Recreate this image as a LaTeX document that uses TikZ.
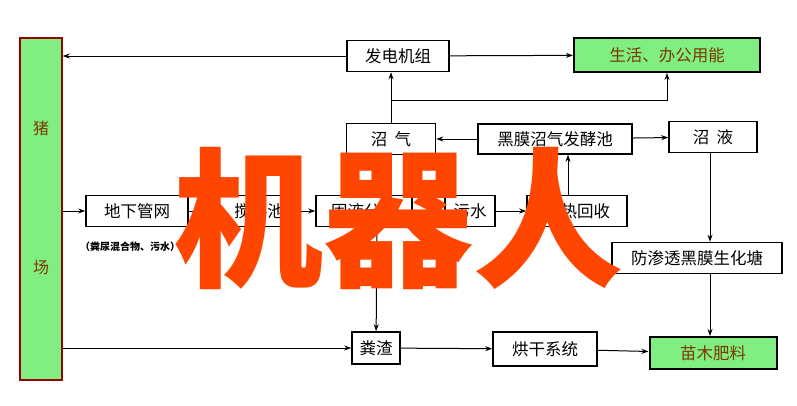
\documentclass[tikz,border=0pt]{standalone}
\usepackage{fontspec}
\setmainfont{Noto Sans CJK SC}
\newfontfamily\cjk{Noto Sans CJK SC}
\usetikzlibrary{arrows.meta}
\definecolor{lg}{HTML}{80EE80}
\definecolor{olive}{HTML}{7A3A00}
\begin{document}
\begin{tikzpicture}[x=1pt,y=-1pt,
 bx/.style={draw,line width=1.6pt,inner sep=0pt,font=\fontsize{16.5}{16.5}\selectfont},
 gbx/.style={bx,fill=lg,line width=2pt,text=olive},
 ar/.style={-{Stealth[length=7pt,width=5pt]},line width=1pt},
 ln/.style={line width=1pt}]
\useasboundingbox (0,0) rectangle (797,405);
\node[draw=red!60!black,fill=lg,line width=1.5pt,minimum width=42pt,minimum height=342pt] (pig) at (41,209) {};
\node[text=olive,font=\fontsize{16}{16}\selectfont] (pt1) at (41,128) {猪};
\node[text=olive,font=\fontsize{16}{16}\selectfont] (pt2) at (41,268) {场};
\node[bx,minimum width=102pt,minimum height=31pt] (fd) at (398,56) {发电机组};
\node[gbx,minimum width=186pt,minimum height=34pt] (sh) at (667,55) {生活、办公用能};
\node[bx,minimum width=89pt,minimum height=31pt] (zq) at (391,139) {沼\ \ 气};
\node[bx,minimum width=154pt,minimum height=30pt] (hm) at (555,139) {黑膜沼气发酵池};
\node[bx,minimum width=88pt,minimum height=31pt] (zy) at (713,137) {沼\ \ 液};
\node[bx,minimum width=102pt,minimum height=31pt] (dx) at (137,211) {地下管网};
\node[bx,minimum width=82pt,minimum height=31pt] (jb) at (259,211) {搅拌池};
\node[bx,minimum width=96pt,minimum height=31pt] (gy) at (364,211) {固液分离};
\node[bx,minimum width=50pt,minimum height=31pt] (ws) at (470,211) {污水};
\node[bx,minimum width=100pt,minimum height=31pt] (yr) at (577,211) {余热回收};
\node[font=\fontsize{10}{10}\selectfont\bfseries] (note) at (130,247) {（粪尿混合物、污水）};
\node[bx,minimum width=170pt,minimum height=31pt] (fs) at (697,258) {防渗透黑膜生化塘};
\node[bx,minimum width=48pt,minimum height=32pt] (fz) at (376,348) {粪渣};
\node[bx,minimum width=104pt,minimum height=34pt] (hg) at (545,349) {烘干系统};
\node[gbx,minimum width=127pt,minimum height=32pt] (mm) at (713,353) {苗木肥料};
\draw[ar] (fd.west) -- (pig.east|-fd.west);
\draw[ar] (fd) -- (sh);
\draw[ar] (zq.north-|391,0) -- (fd.south-|391,0);
\coordinate (c1) at (391,100);
\draw[ar] (c1) -| (sh.south-|667,0);
\draw[ar] (hm) -- (zq);
\draw[ar] (hm) -- (zy);
\draw[ar] (pig.east|-dx.west) -- (dx);
\draw[ln] (dx) -- (jb);
\draw[ar] (jb) -- (gy);
\draw[ar] (gy) -- (ws);
\draw[ar] (ws) -- (yr);
\draw[ar] (yr.north-|568,0) -- (hm.south-|568,0);
\draw[ar] (gy.south-|377,0) -- (fz);
\draw[ar] (zy.south-|710,0) -- (fs.north-|710,0);
\draw[ar] (fs.south-|710,0) -- (mm.north-|710,0);
\draw[ar] (pig.east|-fz.west) -- (fz);
\draw[ar] (fz) -- (hg);
\draw[ar] (hg) -- (mm);
\node[text={rgb,255:red,255;green,70;blue,0},font=\cjk\bfseries\fontsize{150}{150}\selectfont] (wm) at (398,218) {机器人};
\end{tikzpicture}
\end{document}
